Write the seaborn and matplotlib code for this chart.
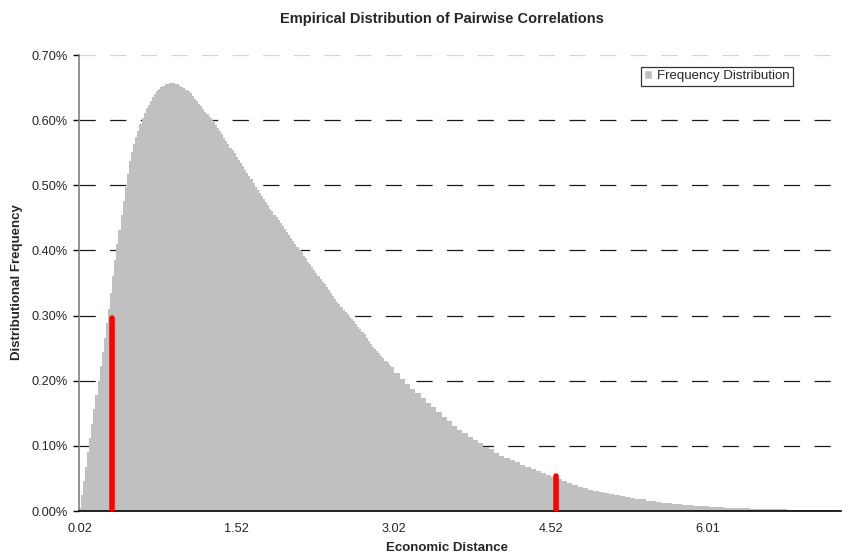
import numpy as np
import pandas as pd
import matplotlib
matplotlib.use("Agg")
import matplotlib.pyplot as plt
from matplotlib.patches import Patch
from matplotlib.ticker import FuncFormatter
import seaborn as sns

# distances sampled every 0.02 up to 3.00, then every 0.05 (values in %)
dist_fine = np.round(np.arange(0.02, 3.001, 0.02), 2)
freq_fine = [
    0.004, 0.024, 0.046, 0.068, 0.090, 0.112, 0.134, 0.156, 0.178, 0.200,
    0.222, 0.244, 0.266, 0.288, 0.310, 0.334, 0.360, 0.386, 0.410, 0.432,
    0.454, 0.476, 0.498, 0.518, 0.537, 0.551, 0.563, 0.574, 0.584, 0.594,
    0.603, 0.611, 0.618, 0.624, 0.630, 0.636, 0.640, 0.644, 0.648, 0.651,
    0.653, 0.655, 0.656, 0.657, 0.657, 0.657, 0.656, 0.655, 0.653, 0.651,
    0.649, 0.647, 0.644, 0.641, 0.637, 0.633, 0.629, 0.625, 0.621, 0.617,
    0.613, 0.609, 0.605, 0.601, 0.597, 0.592, 0.588, 0.583, 0.578, 0.573,
    0.568, 0.563, 0.558, 0.554, 0.549, 0.544, 0.539, 0.534, 0.529, 0.524,
    0.519, 0.514, 0.509, 0.503, 0.498, 0.493, 0.488, 0.483, 0.479, 0.474,
    0.469, 0.464, 0.460, 0.455, 0.451, 0.446, 0.442, 0.437, 0.433, 0.428,
    0.424, 0.419, 0.415, 0.410, 0.406, 0.401, 0.397, 0.392, 0.388, 0.383,
    0.379, 0.374, 0.370, 0.365, 0.361, 0.356, 0.352, 0.348, 0.344, 0.339,
    0.335, 0.330, 0.326, 0.321, 0.317, 0.313, 0.309, 0.305, 0.302, 0.298,
    0.294, 0.291, 0.287, 0.283, 0.279, 0.275, 0.271, 0.266, 0.261, 0.256,
    0.252, 0.249, 0.245, 0.242, 0.238, 0.235, 0.231, 0.228, 0.224, 0.221,
]
dist_tail = np.round(np.arange(3.05, 7.251, 0.05), 2)
freq_tail = [
    0.212, 0.203, 0.195, 0.188, 0.181, 0.174, 0.166, 0.159, 0.152, 0.145,
    0.138, 0.131, 0.125, 0.119, 0.114, 0.109, 0.104, 0.099, 0.095, 0.089,
    0.085, 0.081, 0.078, 0.075, 0.071, 0.068, 0.065, 0.062, 0.058, 0.055,
    0.052, 0.049, 0.046, 0.043, 0.040, 0.037, 0.035, 0.033, 0.031, 0.029,
    0.027, 0.026, 0.024, 0.023, 0.021, 0.020, 0.019, 0.018, 0.016, 0.015,
    0.014, 0.013, 0.012, 0.011, 0.0105, 0.0098, 0.0090, 0.0083, 0.0077, 0.0072,
    0.0067, 0.0062, 0.0058, 0.0053, 0.0049, 0.0045, 0.0042, 0.0039, 0.0036, 0.0034,
    0.0032, 0.0030, 0.0028, 0.0026, 0.0024, 0.0023, 0.0021, 0.0020, 0.0019, 0.0018,
    0.0017, 0.0016, 0.0015, 0.0015, 0.0014,
]

# red markers
marker_dist = [0.33, 4.57]
marker_freq = [0.296, 0.054]

tick_pos = [0.02, 1.52, 3.02, 4.52, 6.02]
tick_labels = ["0.02", "1.52", "3.02", "4.52", "6.01"]

assert len(dist_fine) == len(freq_fine) and len(dist_tail) == len(freq_tail)
df = pd.DataFrame({
    "dist": np.concatenate([dist_fine, dist_tail]),
    "freq": np.concatenate([freq_fine, freq_tail]),
})

# bin edges half way between the sample points
d = df["dist"].to_numpy()
mids = (d[1:] + d[:-1]) / 2
edges = np.concatenate([[d[0] - 0.01], mids, [d[-1] + 0.025]]).tolist()

sns.set_style("white")
plt.rcParams["font.family"] = ["Liberation Sans", "DejaVu Sans"]

fig = plt.figure(figsize=(8.54, 5.56), dpi=100)
ax = fig.add_axes([79 / 854, 1 - 511 / 556, (841 - 79) / 854, (511 - 55) / 556])

sns.histplot(data=df, x="dist", weights="freq", bins=edges, color="#c0c0c0",
             alpha=1, linewidth=0, ax=ax)

for xd, h in zip(marker_dist, marker_freq):
    ax.plot([xd, xd], [0, h], color="#ff0000", lw=4, solid_capstyle="round", zorder=5)

ax.set_xlim(0.013, 7.29)
ax.set_ylim(0, 0.70)
ax.set_yticks(np.arange(0, 0.71, 0.1))
ax.yaxis.set_major_formatter(FuncFormatter(lambda v, p: f"{v:.2f}%"))
ax.set_xticks(tick_pos)
ax.set_xticklabels(tick_labels)
ax.tick_params(axis="y", length=4, width=1, color="black", direction="out",
               left=True, labelsize=9.2, pad=4)
ax.tick_params(axis="x", length=0, labelsize=9.2, pad=9)

ax.set_axisbelow(True)
ax.yaxis.grid(True, color="#1a1a1a", lw=0.9, dashes=(13, 11.5))
ax.xaxis.grid(False)
ax.get_ygridlines()[-1].set_color("#d4d4d4")

for s in ["top", "right"]:
    ax.spines[s].set_visible(False)
ax.spines["left"].set_color("#808080")
ax.spines["left"].set_linewidth(1.2)
ax.spines["bottom"].set_color("black")
ax.spines["bottom"].set_linewidth(1.2)

ax.set_xlabel("")
ax.set_ylabel("")
fig.text(442 / 854, 1 - 18.5 / 556, "Empirical Distribution of Pairwise Correlations",
         ha="center", va="center", fontsize=10.5, fontweight="bold")
fig.text(447 / 854, 1 - 548 / 556, "Economic Distance",
         ha="center", va="center", fontsize=9.5, fontweight="bold")
fig.text(17.5 / 854, 1 - 282.5 / 556, "Distributional Frequency",
         ha="center", va="center", rotation=90, fontsize=9.5, fontweight="bold")

leg = ax.legend(handles=[Patch(facecolor="#c0c0c0", label="Frequency Distribution")],
                loc="upper left", bbox_to_anchor=(641 / 854, 1 - 67 / 556),
                bbox_transform=fig.transFigure, borderaxespad=0, fontsize=9.5,
                frameon=True, fancybox=False, handlelength=0.6, handleheight=0.6,
                handletextpad=0.4, borderpad=0.25)
leg.get_frame().set_edgecolor("black")
leg.get_frame().set_linewidth(0.9)

fig.savefig("out.png", dpi=100)
